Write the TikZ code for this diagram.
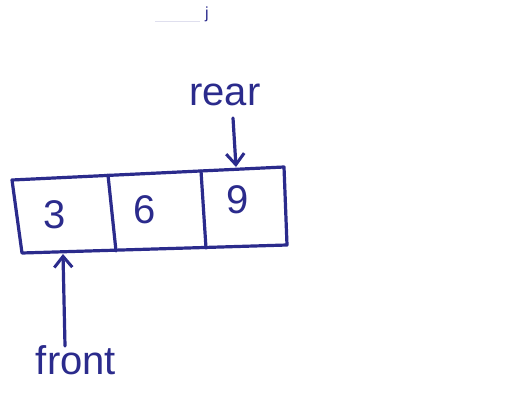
\documentclass[tikz,border=0pt]{standalone}
\usepackage{fontspec}
\setmainfont{Liberation Sans}
\usetikzlibrary{arrows.meta}
\definecolor{ink}{HTML}{2B2B8C}
\begin{document}
\begin{tikzpicture}[x=1pt,y=-1pt,
  pen/.style={draw=ink,line width=3.2pt,line cap=round,line join=round},
  arr/.style={pen,-{Straight Barb[length=11pt,width=18pt,line width=3pt]}},
  lbl/.style={text=ink,font=\fontsize{40}{40}\selectfont,inner sep=0pt},
  num/.style={text=ink,font=\fontsize{40}{40}\selectfont,inner sep=0pt}]
\useasboundingbox (0,0) rectangle (516,403);
\coordinate (tl) at (12,180);
\coordinate (tr) at (284,167);
\coordinate (br) at (287,245);
\coordinate (bl) at (22,253);
\coordinate (d1t) at (108,175);
\coordinate (d1b) at (116,251);
\coordinate (d2t) at (201,171);
\coordinate (d2b) at (206,248);
\draw[pen] (tl) -- (tr) -- (br) -- (bl) -- cycle;
\draw[pen] (d1t) -- (d1b);
\draw[pen] (d2t) -- (d2b);
\node[num] (c1) at (55,215) {3};
\node[num] (c2) at (145,210) {6};
\node[num] (c3) at (238,200) {9};
\node[lbl] (rear) at (225,95) {rear};
\node[lbl] (front) at (76,360) {front};
\coordinate (rs) at (233,118);
\coordinate (rtip) at (236,167);
\coordinate (fs) at (65,346);
\coordinate (ftip) at (63,254);
\draw[arr] (rs) -- (rtip);
\draw[arr] (fs) -- (ftip);
\node[text=ink,font=\fontsize{16}{16}\selectfont,inner sep=0pt] (j) at (207,14) {j};
\draw[ink!15,line width=0.8pt] (155,21) -- (200,21);
\end{tikzpicture}
\end{document}
